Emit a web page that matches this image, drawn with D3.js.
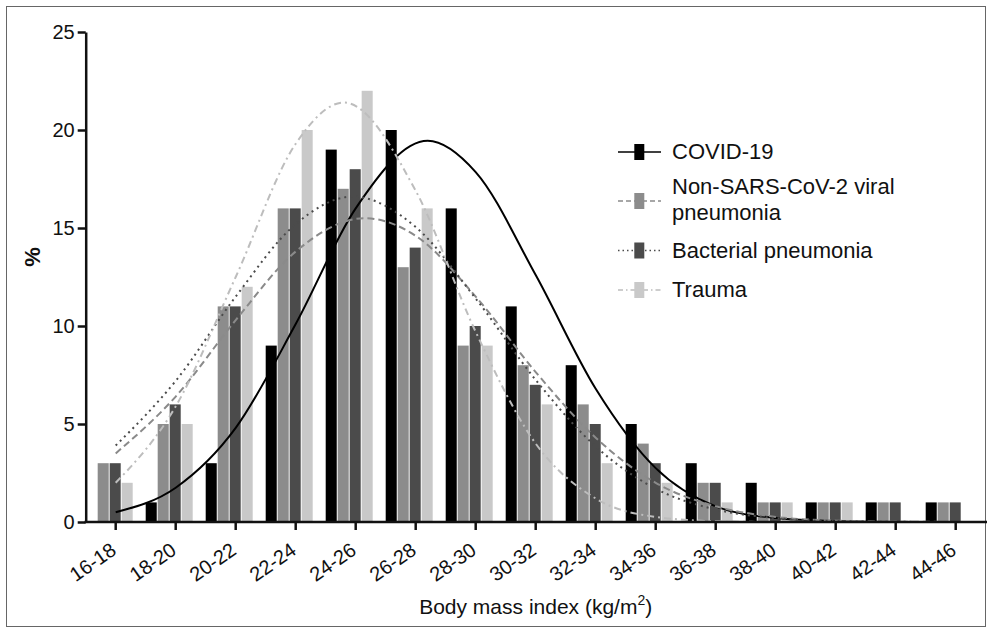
<!DOCTYPE html>
<html>
<head>
<meta charset="utf-8">
<script src="https://cdn.jsdelivr.net/npm/d3@7"></script>
<style>
  html, body { margin: 0; padding: 0; background: #fff; }
  svg { display: block; font-family: "Liberation Sans", Arial, sans-serif; }
</style>
</head>
<body>
<svg id="chart" width="987" height="633"></svg>
<script>
// ---------------- DATA ----------------
const categories = ["16-18","18-20","20-22","22-24","24-26","26-28","28-30","30-32","32-34","34-36","36-38","38-40","40-42","42-44","44-46"];
const seriesNames = ["COVID-19", "Non-SARS-CoV-2 viral pneumonia", "Bacterial pneumonia", "Trauma"];
const covid     = [0, 1, 3, 9, 19, 20, 16, 11, 8, 5, 3, 2, 1, 1, 1];
const nonSars   = [3, 5, 11, 16, 17, 13, 9, 8, 6, 4, 2, 1, 1, 1, 1];
const bacterial = [3, 6, 11, 16, 18, 14, 10, 7, 5, 3, 2, 1, 1, 1, 1];
const trauma    = [2, 5, 12, 20, 22, 16, 9, 6, 3, 2, 1, 1, 1, 0, 0];
const yTicks = [0, 5, 10, 15, 20, 25];

// fitted curves: [BMI, %]
const covidFit = [[17,0.5],[19,1.75],[21,4.8],[23,10.1],[25,16.0],[27.4,19.45],[29,17.85],[31,12.6],[33,6.8],[35,2.75],[37,0.8],[39,0.2],[41,0.04],[43,0],[46,0]];
const nonSarsFit = [[17,3.5],[19,6.4],[21,10.3],[23,13.8],[25.3,15.5],[27,14.6],[29,11.5],[31,7.65],[33,4.3],[35,2.0],[37,0.8],[39,0.26],[41,0.07],[43,0.02],[46,0]];
const bacterialFit = [[17,3.9],[19,7.2],[21,11.5],[23,15.2],[24.9,16.6],[27,15.05],[29,11.4],[31,7.25],[33,3.85],[35,1.7],[37,0.64],[39,0.2],[41,0.05],[43,0.01],[46,0]];
const traumaFit = [[17,2.0],[19,5.9],[21,12.5],[23,19.3],[24.6,21.4],[27,16.9],[29,9.7],[31,4.0],[33,1.2],[35,0.26],[37,0.04],[39,0],[46,0]];

// ---------------- STYLE ----------------
const barColors = ["#000000", "#8c8c8c", "#4b4b4b", "#c9c9c9"];
const lineStyles = [
  {stroke: "#000000", dash: null, width: 2},
  {stroke: "#8a8a8a", dash: "7,4", width: 2},
  {stroke: "#4b4b4b", dash: "2,4", width: 2},
  {stroke: "#bdbdbd", dash: "7,4,2,4", width: 2}
];

const svg = d3.select("#chart");
const plotL = 85.7, plotR = 985.7, plotT = 32, plotB = 522;

// border
svg.append("rect").attr("x", 6.5).attr("y", 6.5).attr("width", 979).attr("height", 620)
  .attr("fill", "none").attr("stroke", "#666").attr("stroke-width", 1);

const x = d3.scaleBand().domain(categories).range([plotL, plotR]).padding(0);
const x1 = d3.scaleBand().domain(d3.range(4)).range([0, 47]).paddingInner(0.08).paddingOuter(0);
const y = d3.scaleLinear().domain([0, 25]).range([plotB, plotT]);
const bmi = d3.scaleLinear().domain([17, 45])
  .range([x(categories[0]) + x.bandwidth() / 2, x(categories[categories.length - 1]) + x.bandwidth() / 2]);

const allSeries = [covid, nonSars, bacterial, trauma];
const fits = [covidFit, nonSarsFit, bacterialFit, traumaFit];

// bars
const gBars = svg.append("g");
allSeries.forEach((vals, si) => {
  gBars.selectAll(null).data(vals.map((v, i) => ({v, c: categories[i]})))
    .enter().append("rect")
    .attr("x", d => x(d.c) + x1(si))
    .attr("width", x1.bandwidth())
    .attr("y", d => y(d.v))
    .attr("height", d => y(0) - y(d.v))
    .attr("fill", barColors[si]);
});

// curves
const line = d3.line().x(d => bmi(d[0])).y(d => y(d[1])).curve(d3.curveMonotoneX);
fits.forEach((f, si) => {
  const s = lineStyles[si];
  svg.append("path").datum(f)
    .attr("d", line)
    .attr("fill", "none")
    .attr("stroke", s.stroke)
    .attr("stroke-width", s.width)
    .attr("stroke-dasharray", s.dash);
});

// y axis
const yAxis = svg.append("g").attr("transform", `translate(${plotL},0)`)
  .call(d3.axisLeft(y).tickValues(yTicks).tickSize(8).tickSizeOuter(0).tickPadding(3));
yAxis.select(".domain").attr("stroke", "#111").attr("stroke-width", 2.5);
yAxis.selectAll(".tick line").attr("stroke", "#111").attr("stroke-width", 2.5);
yAxis.selectAll(".tick text").attr("font-size", 20).attr("fill", "#111")
  .attr("font-family", "'Liberation Sans', Arial, sans-serif");

// x axis
const xAxis = svg.append("g").attr("transform", `translate(0,${plotB})`)
  .call(d3.axisBottom(x).tickSize(8).tickSizeOuter(0));
xAxis.select(".domain").attr("stroke", "#111").attr("stroke-width", 2.5)
  .attr("d", `M${plotL - 1.2},0H987`);
xAxis.selectAll(".tick line").attr("stroke", "#111").attr("stroke-width", 2.5);
xAxis.selectAll(".tick text")
  .attr("font-size", 20).attr("fill", "#111")
  .attr("font-family", "'Liberation Sans', Arial, sans-serif")
  .attr("text-anchor", "end")
  .attr("y", 0).attr("dy", 0)
  .attr("transform", "translate(2,31) rotate(-35)");

// axis titles
const xt = svg.append("text").attr("x", (plotL + plotR) / 2).attr("y", 614)
  .attr("text-anchor", "middle").attr("font-size", 21).attr("fill", "#111");
xt.append("tspan").text("Body mass index (kg/m");
xt.append("tspan").attr("font-size", 14).attr("dy", -9).text("2");
xt.append("tspan").attr("dy", 9).text(")");

svg.append("text").attr("transform", "translate(40,257) rotate(-90)")
  .attr("text-anchor", "middle").attr("font-size", 22).attr("font-weight", "bold")
  .attr("fill", "#111").text("%");

// legend
const legendRows = [
  {cy: 152, lines: ["COVID-19"], base: [159]},
  {cy: 201, lines: ["Non-SARS-CoV-2 viral", "pneumonia"], base: [194, 220]},
  {cy: 250.5, lines: ["Bacterial pneumonia"], base: [257.5]},
  {cy: 290, lines: ["Trauma"], base: [297]}
];
const gLeg = svg.append("g");
legendRows.forEach((r, i) => {
  const s = lineStyles[i];
  gLeg.append("line").attr("x1", 618).attr("x2", 661).attr("y1", r.cy).attr("y2", r.cy)
    .attr("stroke", s.stroke).attr("stroke-width", 1.6).attr("stroke-dasharray", i === 0 ? null : (i === 2 ? "1.5,3" : (i === 1 ? "5,3" : "5,3,1.5,3")));
  gLeg.append("rect").attr("x", 634.3).attr("y", r.cy - 8).attr("width", 10).attr("height", 16)
    .attr("fill", barColors[i]);
  r.lines.forEach((t, k) => {
    gLeg.append("text").attr("x", 672).attr("y", r.base[k]).attr("font-size", 22)
      .attr("fill", "#111").text(t);
  });
});
</script>
</body>
</html>
